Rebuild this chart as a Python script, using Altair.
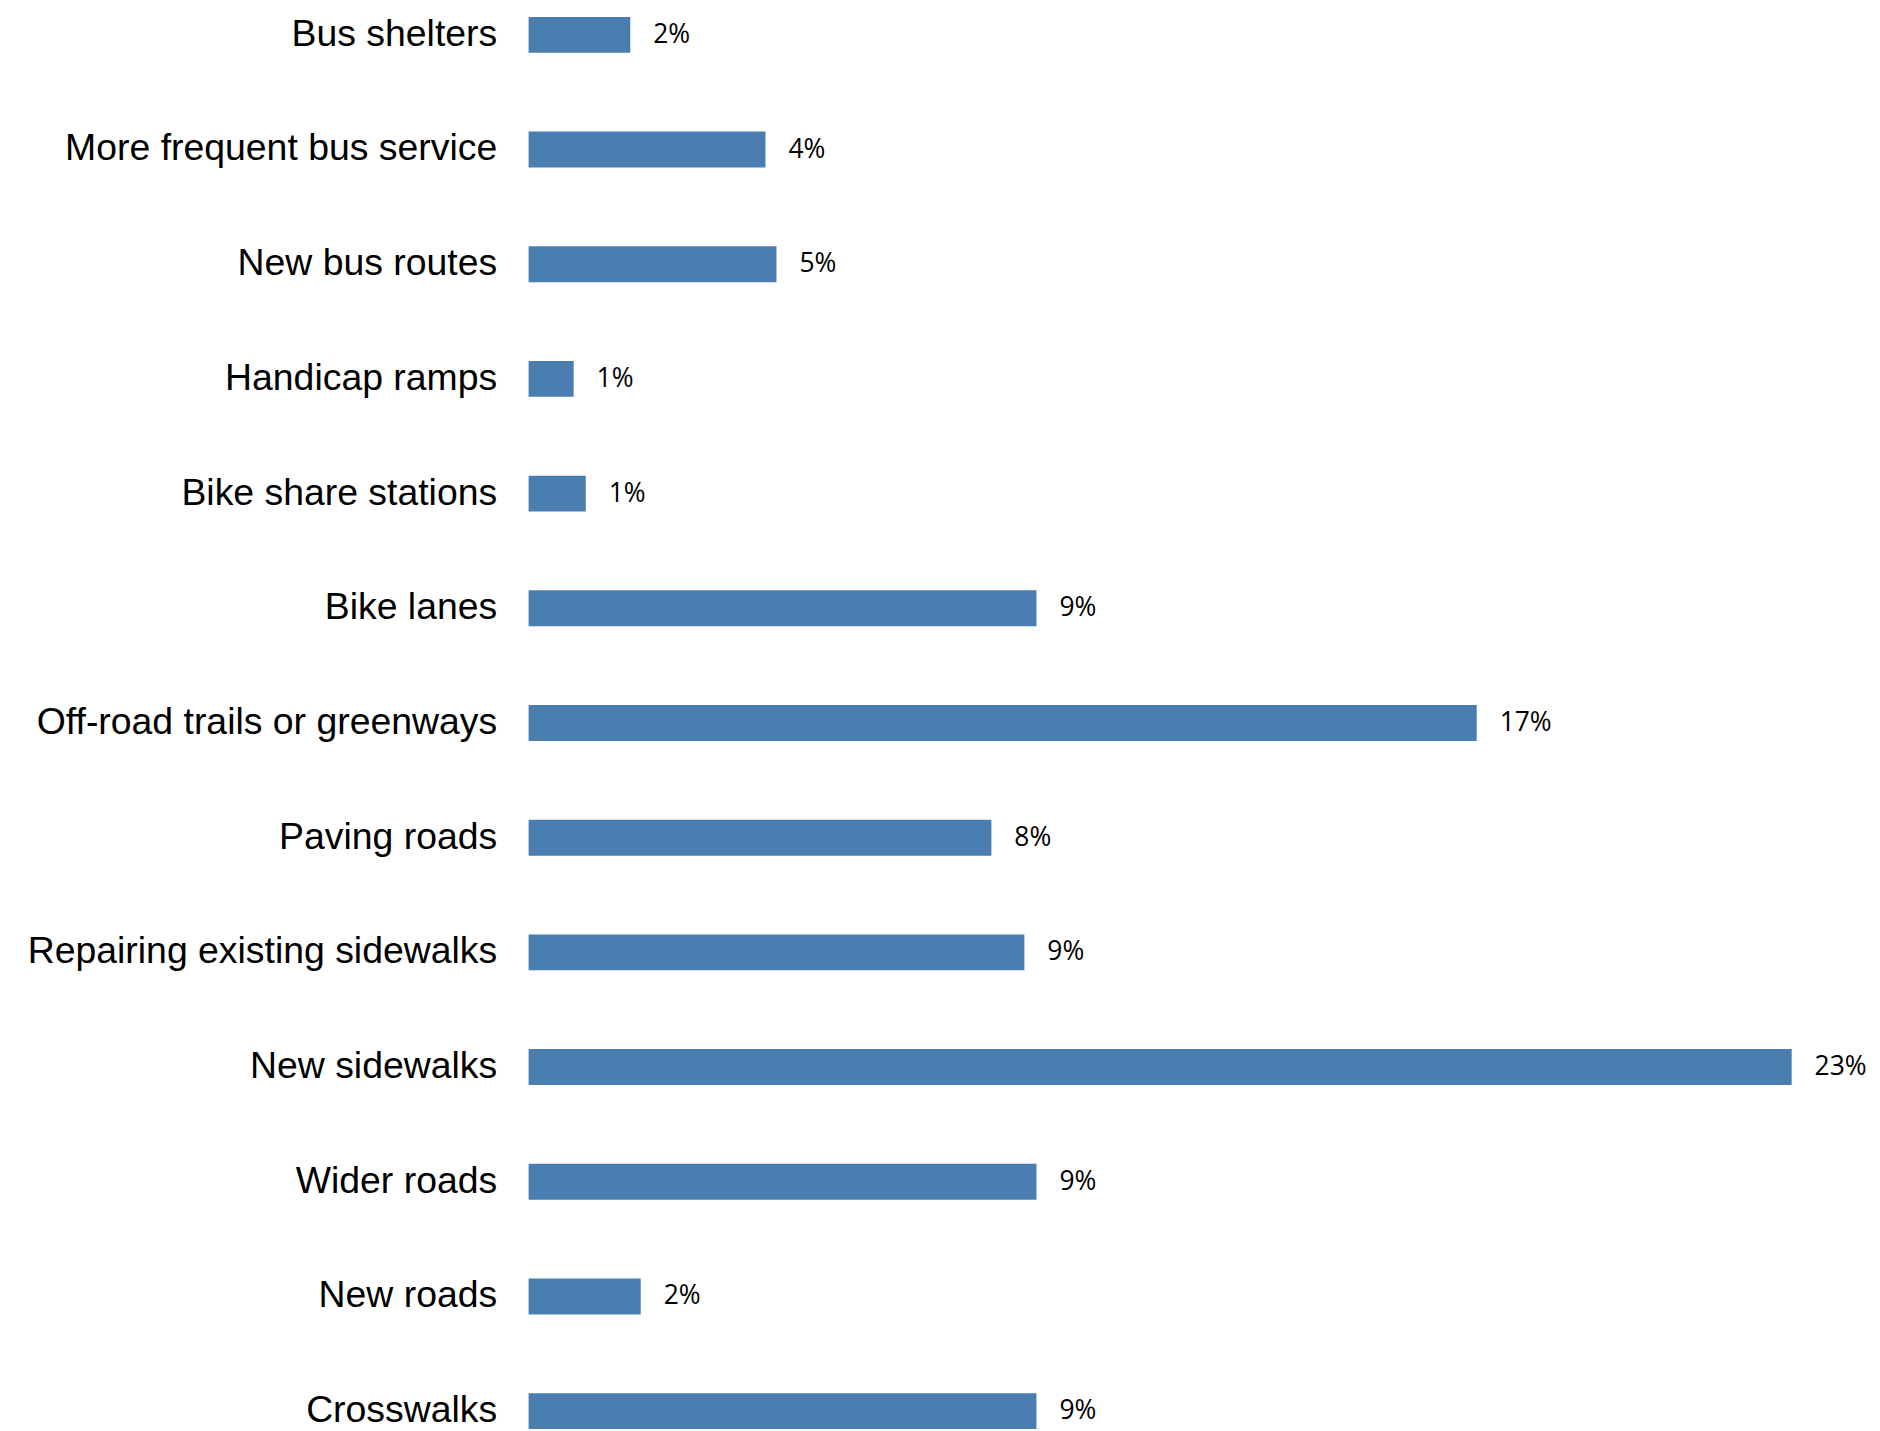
import altair as alt
import pandas as pd

categories = [
    "Bus shelters",
    "More frequent bus service",
    "New bus routes",
    "Handicap ramps",
    "Bike share stations",
    "Bike lanes",
    "Off-road trails or greenways",
    "Paving roads",
    "Repairing existing sidewalks",
    "New sidewalks",
    "Wider roads",
    "New roads",
    "Crosswalks",
]
values = [1.85, 4.31, 4.51, 0.82, 1.04, 9.24, 17.25, 8.42, 9.02, 22.98, 9.24, 2.04, 9.24]

df = pd.DataFrame({"category": categories, "value": values})

y = alt.Y(
    "category:N",
    sort=categories,
    title=None,
    scale=alt.Scale(paddingInner=0.687, paddingOuter=0),
    axis=alt.Axis(
        domain=False,
        ticks=False,
        grid=False,
        labelFontSize=37.5,
        labelFont="Liberation Sans",
        labelColor="#000000",
        labelPadding=32,
        labelLimit=1000,
    ),
)
x = alt.X("value:Q", axis=None, scale=alt.Scale(domain=[0, 24.26], nice=False, zero=True))

bars = alt.Chart(df).mark_bar(color="#4a7eb0").encode(x=x, y=y)
text = (
    alt.Chart(df)
    .transform_calculate(label="format(datum.value, '.0f') + '%'")
    .mark_text(align="left", baseline="middle", dx=23, font="Open Sans", fontSize=26.5, color="#000000")
    .encode(x=x, y=y, text="label:N")
)

chart = (
    alt.layer(bars, text)
    .properties(
        width=1337,
        height=1416,
        autosize=alt.AutoSizeParams(type="none"),
        padding={"left": 522, "top": 7, "right": 10, "bottom": 0},
    )
    .configure_view(stroke=None)
)

chart.save("out.html", embed_options={"renderer": "svg", "actions": False})
